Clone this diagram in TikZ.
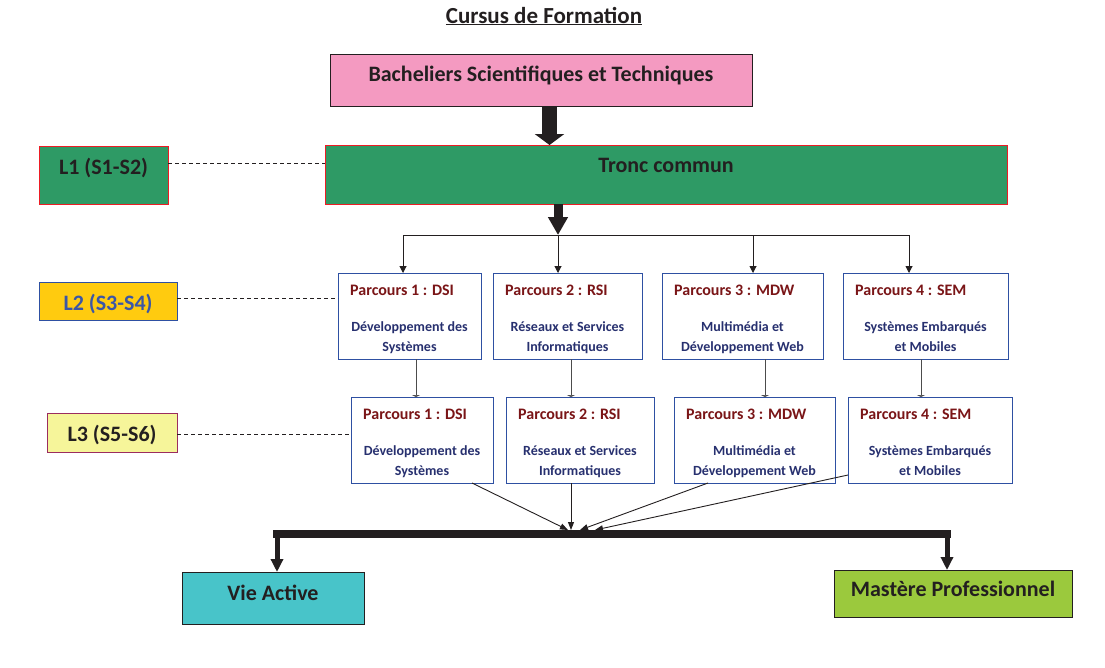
\documentclass[tikz,border=0pt]{standalone}
\usepackage{fontspec}
\setmainfont{Carlito}
\usetikzlibrary{arrows.meta,calc}
\definecolor{pinkc}{HTML}{F49AC1}
\definecolor{troncg}{HTML}{2E9A65}
\definecolor{redb}{HTML}{ED1C24}
\definecolor{l2y}{HTML}{FFCB0F}
\definecolor{blueb}{HTML}{2E50A2}
\definecolor{l2t}{HTML}{3B56A6}
\definecolor{l3y}{HTML}{F6F59A}
\definecolor{l3b}{HTML}{9B2C5F}
\definecolor{titr}{HTML}{7A1517}
\definecolor{descb}{HTML}{27306F}
\definecolor{cyanc}{HTML}{48C4C9}
\definecolor{greenm}{HTML}{9BC93D}
\definecolor{inkc}{HTML}{231F20}
\begin{document}
\begin{tikzpicture}[x=1pt,y=-1pt,
  box/.style={draw, inner sep=0pt, outer sep=0pt, anchor=north west, line width=1pt},
  bigtxt/.style={font=\bfseries\fontsize{22}{26}\selectfont, text=inkc, anchor=base, inner sep=0pt},
  pbox/.style={box, draw=blueb, fill=white, line width=0.9pt},
  ptitle/.style={font=\bfseries\fontsize{16}{19}\selectfont, text=titr, inner sep=0pt, anchor=base west},
  pdesc/.style={font=\bfseries\fontsize{14}{17}\selectfont, text=descb, inner sep=0pt, anchor=base},
  dashl/.style={draw=inkc, line width=0.8pt, dash pattern=on 4pt off 3pt},
  thinarr/.style={draw=inkc, line width=1pt, -{Triangle[width=7pt,length=7pt]}},
  tarr/.style={draw=black!70, line width=1pt, -{Triangle[width=8pt,length=2pt]}},
  convarr/.style={draw=inkc, line width=0.9pt, -{Triangle[width=6pt,length=8pt]}}
]
\useasboundingbox (0,0) rectangle (1105,667);

% title
\node[font=\bfseries\fontsize{23}{27}\selectfont, text=inkc, anchor=base, inner sep=0pt] (title) at (544,23) {\underline{Cursus de Formation}};

% top boxes
\node[box, fill=pinkc, draw=inkc, minimum width=422pt, minimum height=52pt] (bach) at (330,54) {};
\node[bigtxt] (bacht) at (541,81) {Bacheliers Scientifiques et Techniques};

\node[box, fill=troncg, draw=redb, minimum width=682pt, minimum height=59pt] (tronc) at (325,145) {};
\node[bigtxt] (tronct) at (666,172) {Tronc commun};

% level labels
\node[box, fill=troncg, draw=redb, minimum width=129pt, minimum height=58pt] (L1) at (39,146) {};
\node[bigtxt] (L1t) at (103.5,174) {L1 (S1-S2)};
\node[box, fill=l2y, draw=blueb, minimum width=138pt, minimum height=38pt] (L2) at (39,282) {};
\node[bigtxt, text=l2t] (L2t) at (108,310) {L2 (S3-S4)};
\node[box, fill=l3y, draw=l3b, minimum width=130pt, minimum height=39pt] (L3) at (47,413) {};
\node[bigtxt] (L3t) at (112,441) {L3 (S5-S6)};

% parcours boxes
\foreach \n/\xa/\xb/\yt/\t/\la/\lb in {
  L2a/338/481/273/{Parcours 1 : DSI}/{Développement des}/{Systèmes},
  L2b/493/642/273/{Parcours 2 : RSI}/{Réseaux et Services}/{Informatiques},
  L2c/662/823/273/{Parcours 3 : MDW}/{Multimédia et}/{Développement Web},
  L2d/843/1008/273/{Parcours 4 : SEM}/{Systèmes Embarqués}/{et Mobiles},
  L3a/351/493/397/{Parcours 1 : DSI}/{Développement des}/{Systèmes},
  L3b/506/654/397/{Parcours 2 : RSI}/{Réseaux et Services}/{Informatiques},
  L3c/674/835/397/{Parcours 3 : MDW}/{Multimédia et}/{Développement Web},
  L3d/848/1012/397/{Parcours 4 : SEM}/{Systèmes Embarqués}/{et Mobiles}}{
  \pgfmathsetmacro\w{\xb-\xa}
  \node[pbox, minimum width=\w pt, minimum height=86pt] (\n) at (\xa,\yt) {};
  \node[ptitle] (\n-t) at ([xshift=12pt,yshift=-22pt]\n.north west) {\t};
  \node[pdesc] (\n-d1) at ([yshift=-58pt]\n.north) {\la};
  \node[pdesc] (\n-d2) at ([yshift=-78pt]\n.north) {\lb};
}

% outcome boxes
\node[box, fill=cyanc, draw=inkc, minimum width=182pt, minimum height=52pt] (vie) at (182,572) {};
\node[bigtxt] (viet) at (273,600) {Vie Active};
\node[box, fill=greenm, draw=inkc, minimum width=238pt, minimum height=47pt] (mast) at (834,570) {};
\node[bigtxt] (mastt) at (953,596) {Mastère Professionnel};

% dashed level links
\draw[dashl] ([yshift=12pt]L1.east) -- ([yshift=12pt]L1.east -| tronc.west);
\draw[dashl] ([yshift=3pt]L2.east) -- ([yshift=3pt]L2.east -| L2a.west);
\draw[dashl] ([yshift=-1.5pt]L3.east) -- ([yshift=-1.5pt]L3.east -| L3a.west);

% big arrows
\coordinate (ax) at (549.5,0);
\draw[draw=inkc, line width=15pt, -{Triangle[width=29pt,length=11pt]}, color=inkc] (bach.south -| ax) -- (tronc.north -| ax);
\coordinate (hub) at (558,235);
\draw[draw=inkc, line width=9pt, -{Triangle[width=19pt,length=18pt]}, color=inkc] (tronc.south -| hub) -- (hub);

% distribution line
\coordinate (hl) at (403,235);
\coordinate (hr) at (909,235);
\draw[draw=inkc, line width=1pt] (hl) -- (hr);
\draw[thinarr] (hl) -- (hl |- L2a.north);
\draw[thinarr] (hub) -- (hub |- L2b.north);
\draw[thinarr] ([xshift=10.5pt]L2c.north |- hub) -- ([xshift=10.5pt]L2c.north);
\draw[thinarr] (hr) -- (hr |- L2d.north);

% L2 -> L3
\draw[tarr] ([xshift=6.5pt]L2a.south) -- ([xshift=6.5pt]L2a.south |- L3a.north);
\draw[tarr] ([xshift=3.5pt]L2b.south) -- ([xshift=3.5pt]L2b.south |- L3b.north);
\draw[tarr] ([xshift=22.5pt]L2c.south) -- ([xshift=22.5pt]L2c.south |- L3c.north);
\draw[tarr] ([xshift=-4.5pt]L2d.south) -- ([xshift=-4.5pt]L2d.south |- L3d.north);

% bar
\coordinate (barL) at (273,534);
\coordinate (barR) at (951,534);
\draw[draw=inkc, line width=8pt] (barL) -- (barR);

% convergence
\coordinate (c1) at (568,530);
\coordinate (c2) at (571,530);
\coordinate (c3) at (580,530);
\coordinate (c4) at (595,530);
\draw[convarr] ([xshift=50pt]L3a.south) -- (c1);
\draw[convarr] ([xshift=-9pt]L3b.south) -- (c2);
\draw[convarr] ([xshift=-46.5pt]L3c.south) -- (c3);
\draw[convarr] ([yshift=8pt]L3d.south west) -- (c4);

% outcome arrows
\draw[draw=inkc, color=inkc, line width=5pt, -{Triangle[width=12pt,length=13pt]}] (277,534) -- (277,572);
\draw[draw=inkc, color=inkc, line width=5pt, -{Triangle[width=12pt,length=13pt]}] (947,534) -- (947,570);
\end{tikzpicture}
\end{document}
